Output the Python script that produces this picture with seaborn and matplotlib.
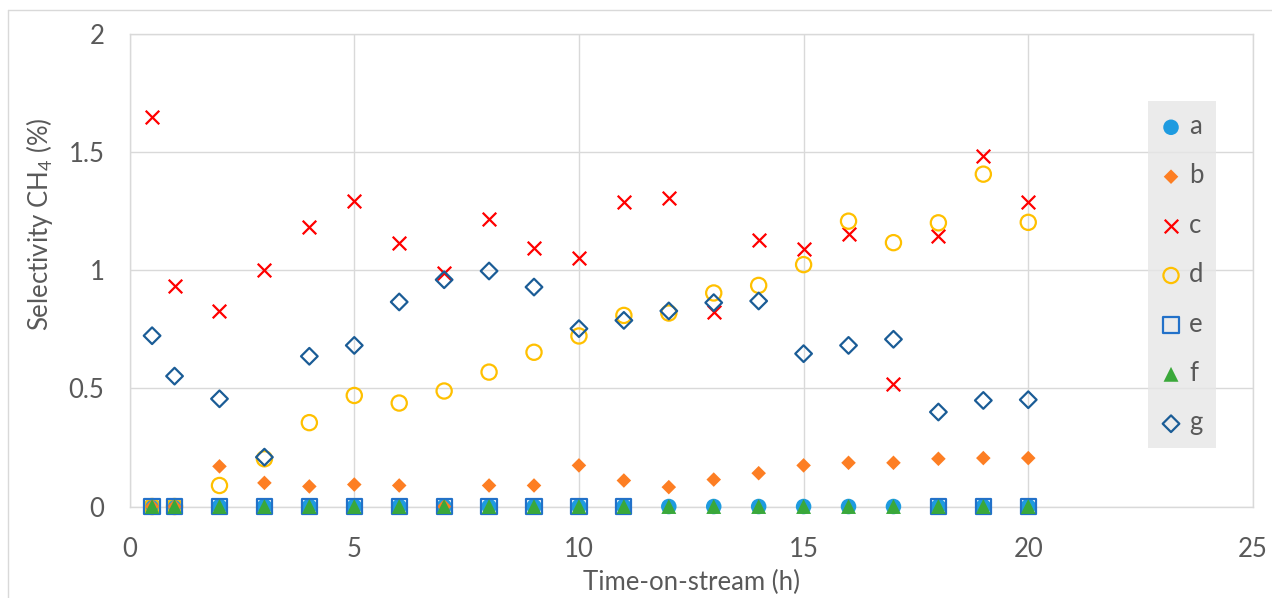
import numpy as np
import pandas as pd
import matplotlib
matplotlib.use('Agg')
import matplotlib.pyplot as plt
from matplotlib.lines import Line2D
import seaborn as sns

# time-on-stream (h)
time_h = [0.5, 1, 2, 3, 4, 5, 6, 7, 8, 9, 10, 11, 12, 13, 14, 15, 16, 17, 18, 19, 20]

# selectivity CH4 (%) per sample
sel_a = [0] * 21
sel_b = [0, 0, 0.17, 0.10, 0.085, 0.093, 0.089, 0, 0.089, 0.089, 0.174, 0.11, 0.082,
         0.114, 0.141, 0.174, 0.185, 0.185, 0.202, 0.205, 0.205]
sel_c = [1.648, 0.932, 0.826, 1.0, 1.182, 1.292, 1.114, 0.99, 1.217, 1.093, 1.05, 1.29,
         1.305, 0.822, 1.127, 1.089, 1.155, 0.517, 1.145, 1.483, 1.288]
sel_d = [0, 0, 0.089, 0.202, 0.355, 0.470, 0.438, 0.489, 0.569, 0.653, 0.722, 0.809,
         0.819, 0.904, 0.936, 1.024, 1.208, 1.117, 1.201, 1.407, 1.203]
sel_e = [0, 0, 0, 0, 0, 0, 0, 0, 0, 0, 0, 0, np.nan, np.nan, np.nan, np.nan, np.nan,
         np.nan, 0, 0, 0]
sel_f = [0] * 21
sel_g = [0.723, 0.552, 0.456, 0.209, 0.636, 0.682, 0.866, 0.960, 0.997, 0.929, 0.753,
         0.788, 0.828, 0.863, 0.870, 0.647, 0.682, 0.708, 0.400, 0.449, 0.452]

labels = ['a', 'b', 'c', 'd', 'e', 'f', 'g']

sns.set_theme(style='white')
plt.rcParams['font.family'] = ['Lato', 'DejaVu Sans']
plt.rcParams['mathtext.default'] = 'regular'
txt_col = '#595959'
grid_col = '#d9d9d9'

fig = plt.figure(figsize=(12.72, 5.98), dpi=100)
ax = fig.add_axes([0.1019, 0.153, 0.8831, 0.79])

# marker style per series: (marker, colour, size, hollow)
styles = {
    'a': ('o', '#1e9be0', 125, False),
    'b': ('D', '#fd7e23', 55, False),
    'c': ('x', '#ff0000', 95, False),
    'd': ('o', '#ffc000', 120, True),
    'e': ('s', '#2271c9', 120, True),
    'f': ('^', '#3aa83a', 115, False),
    'g': ('D', '#1a5c96', 72, True),
}
series = [sel_a, sel_b, sel_c, sel_d, sel_e, sel_f, sel_g]

for lab, vals in zip(labels, series):
    mk, col, sz, hollow = styles[lab]
    df = pd.DataFrame({'t': time_h, 'v': vals}).dropna()
    if hollow:
        sns.scatterplot(data=df, x='t', y='v', marker=mk, s=sz, color=col,
                        facecolor='none', edgecolor=col, linewidth=1.6,
                        label=lab, ax=ax, zorder=3, clip_on=False)
    elif mk == 'x':
        sns.scatterplot(data=df, x='t', y='v', marker=mk, s=sz, color=col,
                        linewidth=1.6, label=lab, ax=ax, zorder=3, clip_on=False)
    else:
        sns.scatterplot(data=df, x='t', y='v', marker=mk, s=sz, color=col,
                        edgecolor='none', linewidth=0, label=lab, ax=ax, zorder=3,
                        clip_on=False)

ax.set_xlim(0, 25)
ax.set_ylim(0, 2)
ax.set_xticks([0, 5, 10, 15, 20, 25])
ax.set_yticks([0, 0.5, 1, 1.5, 2])
ax.set_yticklabels(['0', '0.5', '1', '1.5', '2'])
ax.grid(True, color=grid_col, linewidth=1)
ax.set_axisbelow(True)
for sp in ax.spines.values():
    sp.set_color(grid_col)
    sp.set_linewidth(1)
ax.tick_params(axis='x', length=0, pad=22, labelsize=18.5, labelcolor=txt_col)
ax.tick_params(axis='y', length=0, pad=18, labelsize=18.5, labelcolor=txt_col)

ax.set_xlabel('Time-on-stream (h)', fontsize=18.5, color=txt_col, labelpad=6)
ax.set_ylabel('Selectivity CH$_4$ (%)', fontsize=18.5, color=txt_col)
ax.yaxis.set_label_coords(-0.066, 0.597)

leg = ax.legend(loc='upper left', bbox_to_anchor=(0.9065, 0.858), borderaxespad=0,
                frameon=True, fancybox=False, fontsize=18.5, labelspacing=0.95,
                handletextpad=0.3, handlelength=0.8, borderpad=0.5)
leg.get_frame().set_facecolor('#e6e6e6')
leg.get_frame().set_edgecolor('none')
for t in leg.get_texts():
    t.set_color(txt_col)

# thin outer border of the chart
fig.add_artist(Line2D([8 / 1272, 1.0], [1 - 10 / 598, 1 - 10 / 598],
                      color=grid_col, linewidth=1, transform=fig.transFigure))
fig.add_artist(Line2D([8 / 1272, 8 / 1272], [0.0, 1 - 10 / 598],
                      color=grid_col, linewidth=1, transform=fig.transFigure))

fig.savefig('out.png', dpi=100)
